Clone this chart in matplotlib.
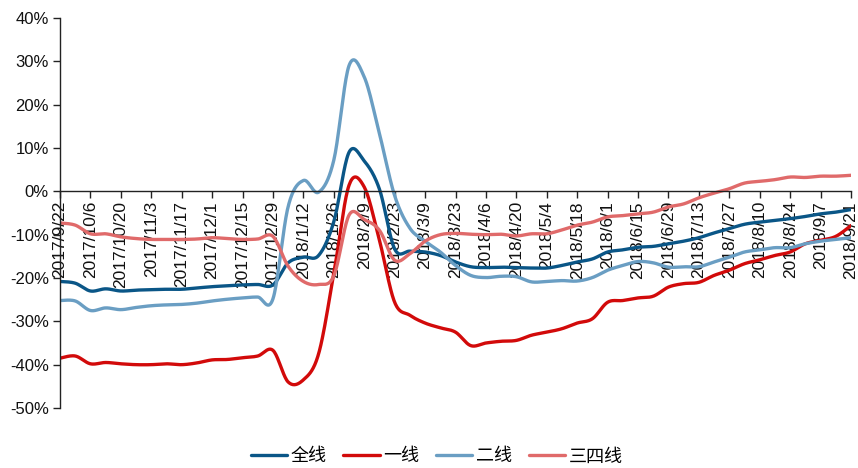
import numpy as np
import matplotlib
matplotlib.use("Agg")
import matplotlib.pyplot as plt
from matplotlib.ticker import FuncFormatter

plt.rcParams['font.family'] = ['Liberation Sans', 'Noto Sans CJK SC', 'DejaVu Sans']

# Weekly dates (2017/9/22 - 2018/9/21)
weeks = ["2017/9/22", "2017/9/29", "2017/10/6", "2017/10/13", "2017/10/20", "2017/10/27",
         "2017/11/3", "2017/11/10", "2017/11/17", "2017/11/24", "2017/12/1", "2017/12/8",
         "2017/12/15", "2017/12/22", "2017/12/29", "2018/1/5", "2018/1/12", "2018/1/19",
         "2018/1/26", "2018/2/2", "2018/2/9", "2018/2/16", "2018/2/23", "2018/3/2",
         "2018/3/9", "2018/3/16", "2018/3/23", "2018/3/30", "2018/4/6", "2018/4/13",
         "2018/4/20", "2018/4/27", "2018/5/4", "2018/5/11", "2018/5/18", "2018/5/25",
         "2018/6/1", "2018/6/8", "2018/6/15", "2018/6/22", "2018/6/29", "2018/7/6",
         "2018/7/13", "2018/7/20", "2018/7/27", "2018/8/3", "2018/8/10", "2018/8/17",
         "2018/8/24", "2018/8/31", "2018/9/7", "2018/9/14", "2018/9/21"]

# Year-on-year change, %
all_cities = [-20.8, -21.2, -23.0, -22.5, -23.0, -22.8, -22.7, -22.6, -22.6, -22.3,
              -22.0, -21.8, -21.6, -21.5, -21.6, -16.5, -15.2, -14.8, -7.0, 9.0,
              7.0, 0.5, -13.3, -13.8, -14.0, -14.8, -16.3, -17.4, -17.6, -17.5,
              -17.6, -17.7, -17.7, -17.1, -16.3, -15.6, -14.0, -13.5, -12.9, -12.7,
              -12.1, -11.5, -10.7, -9.6, -8.6, -7.6, -7.1, -6.7, -6.3, -5.8,
              -5.2, -4.8, -4.2]
tier1 = [-38.5, -38.0, -39.8, -39.5, -39.8, -40.0, -40.0, -39.8, -40.0, -39.6,
         -38.9, -38.8, -38.4, -38.0, -36.7, -44.0, -43.5, -37.5, -19.0, 1.4,
         1.0, -11.3, -25.6, -28.6, -30.4, -31.5, -32.5, -35.6, -35.0, -34.6,
         -34.4, -33.2, -32.5, -31.7, -30.4, -29.4, -25.6, -25.2, -24.6, -24.2,
         -22.1, -21.3, -21.0, -19.4, -18.2, -16.7, -15.8, -14.8, -14.0, -12.1,
         -11.3, -10.4, -7.9]
tier2 = [-25.2, -25.3, -27.5, -26.9, -27.3, -26.8, -26.4, -26.2, -26.1, -25.8,
         -25.3, -24.9, -24.6, -24.4, -24.8, -3.5, 2.5, -0.2, 7.2, 29.0,
         26.4, 13.3, -1.0, -8.5, -11.5, -14.0, -17.1, -19.4, -19.9, -19.6,
         -19.7, -20.9, -20.8, -20.6, -20.7, -19.9, -18.2, -17.1, -16.2, -16.5,
         -17.5, -17.4, -17.4, -16.3, -15.2, -14.0, -13.5, -13.0, -13.0, -12.1,
         -11.5, -11.1, -10.7]
tier34 = [-7.3, -7.8, -9.8, -9.8, -10.5, -10.9, -11.1, -11.1, -11.1, -11.0,
          -10.7, -10.9, -11.1, -11.0, -10.4, -17.3, -20.8, -21.5, -19.5, -5.5,
          -6.5, -9.0, -15.9, -14.4, -11.5, -10.0, -9.7, -9.9, -10.0, -9.9,
          -10.3, -9.8, -9.8, -8.9, -7.8, -7.1, -5.9, -5.6, -5.2, -4.8,
          -3.6, -2.9, -1.5, -0.4, 0.6, 1.9, 2.3, 2.7, 3.3, 3.2,
          3.5, 3.5, 3.7]

series_names = ["全线", "一线", "二线", "三四线"]
series_colors = ["#0a5687", "#d20a0a", "#6a9ec3", "#e06a6a"]


def smooth(y, n=20):
    """Catmull-Rom curve through the weekly points (spreadsheet-style smoothed line)."""
    y = np.asarray(y, dtype=float)
    x = np.arange(len(y), dtype=float)
    px = np.concatenate([[x[0]], x, [x[-1]]])
    py = np.concatenate([[y[0]], y, [y[-1]]])
    xs, ys = [], []
    t = np.linspace(0, 1, n, endpoint=False)
    for i in range(1, len(px) - 2):
        for arr, out in ((px, xs), (py, ys)):
            p0, p1, p2, p3 = arr[i - 1], arr[i], arr[i + 1], arr[i + 2]
            c1 = p1 + (p2 - p0) / 6.0
            c2 = p2 - (p3 - p1) / 6.0
            out.extend((1 - t) ** 3 * p1 + 3 * (1 - t) ** 2 * t * c1
                       + 3 * (1 - t) * t ** 2 * c2 + t ** 3 * p2)
    xs.append(x[-1])
    ys.append(y[-1])
    return np.array(xs), np.array(ys)


fig = plt.figure(figsize=(8.58, 4.68), dpi=100)
ax = fig.add_axes([60 / 858, 1 - 408 / 468, 791 / 858, 390 / 468])

# axis layout first: moving a spine resets the tick objects
ax.spines['top'].set_visible(False)
ax.spines['right'].set_visible(False)
ax.spines['bottom'].set_position(('data', 0))
for s in ('left', 'bottom'):
    ax.spines[s].set_color('#222222')
    ax.spines[s].set_linewidth(1.0)

for vals, name, col in zip([all_cities, tier1, tier2, tier34], series_names, series_colors):
    sx, sy = smooth(vals)
    ax.plot(sx, sy, color=col, lw=2.4, label=name, solid_capstyle='round')

ax.set_xlim(0, len(weeks) - 1)
ax.set_ylim(-50, 40)
ax.set_yticks(np.arange(-50, 41, 10))
ax.yaxis.set_major_formatter(FuncFormatter(lambda v, p: f"{v:.0f}%"))

tick_idx = list(range(0, len(weeks), 2))
ax.set_xticks(tick_idx)
ax.set_xticklabels([weeks[i] for i in tick_idx])

ax.tick_params(axis='both', direction='out', length=5, width=1, color='#222222',
               labelsize=12, labelcolor='#111111')
ax.tick_params(axis='x', pad=2, labelrotation=90, labelsize=12.5)
ax.tick_params(axis='y', pad=3)
for lbl in ax.get_xticklabels():
    lbl.set_ha('center')
    lbl.set_va('top')

fig.legend(loc='center', bbox_to_anchor=(0.509, 1 - 457 / 468), ncol=4, frameon=False,
           fontsize=13, handlelength=2.0, handletextpad=0.2, columnspacing=0.95)

fig.savefig("out.png", dpi=100)
